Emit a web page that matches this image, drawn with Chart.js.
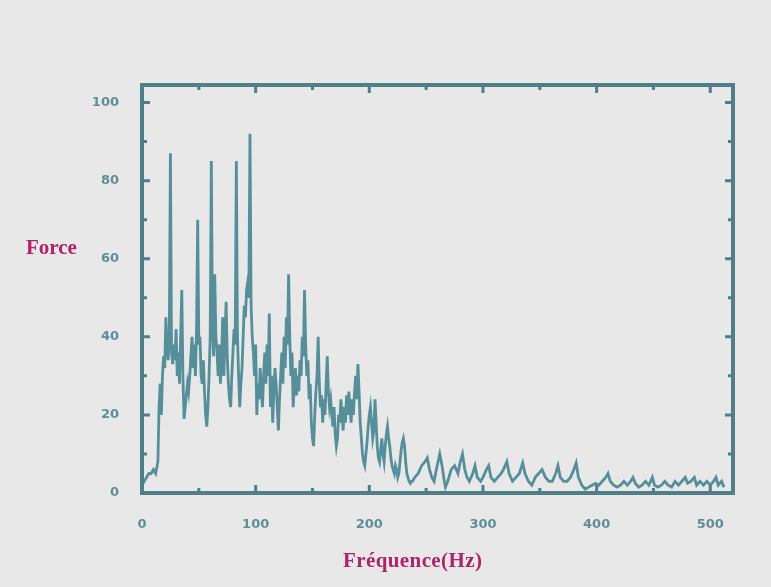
<!DOCTYPE html>
<html>
<head>
<meta charset="utf-8">
<script src="https://cdn.jsdelivr.net/npm/chart.js@4.4.1/dist/chart.umd.min.js"></script>
<style>
  body { margin: 0; background: #e8e8e8; }
  #wrap { position: relative; width: 771px; height: 587px; background: #e8e8e8; }
  .axis-title { position: absolute; font-family: "Liberation Serif", serif; font-weight: bold; color: #b0236a; }
  #yTitle { left: 26px; top: 235px; font-size: 21px; }
  #xTitle { left: 343px; top: 548px; font-size: 21px; letter-spacing: 0.4px; }
</style>
</head>
<body>
<div id="wrap">
  <canvas id="spectrum" width="771" height="587"></canvas>
  <div class="axis-title" id="yTitle">Force</div>
  <div class="axis-title" id="xTitle">Fréquence(Hz)</div>
</div>
<script>
// frequency (Hz) and force values
const freqHz = [
  0, 2, 4, 6, 8, 10, 12, 14, 15, 16, 17, 18, 19, 20, 21, 22, 23, 24, 25, 26, 27, 28, 29, 30,
  31, 32, 33, 34, 35, 36, 37, 38, 39, 40, 41, 42, 43, 44, 45, 46, 47, 48, 49, 50,
  51, 52, 53, 54, 55, 56, 57, 58, 59, 60, 61, 62, 63, 64, 65, 66, 67, 68, 69, 70,
  71, 72, 73, 74, 75, 76, 77, 78, 79, 80, 81, 82, 83, 84, 85, 86, 87, 88, 89, 90,
  91, 92, 93, 94, 95, 96, 97, 98, 99, 100, 101, 102, 103, 104, 105, 106, 107, 108, 109, 110,
  111, 112, 113, 114, 115, 116, 117, 118, 119, 120, 121, 122, 123, 124, 125, 126, 127, 128, 129, 130,
  131, 132, 133, 134, 135, 136, 137, 138, 139, 140, 141, 142, 143, 144, 145, 146, 147, 148, 149, 150,
  151, 152, 153, 154, 155, 156, 157, 158, 159, 160, 161, 162, 163, 164, 165, 166, 167, 168, 169, 170,
  171, 172, 173, 174, 175, 176, 177, 178, 179, 180, 181, 182, 183, 184, 185, 186, 187, 188, 189, 190,
  191, 192, 193, 194, 195, 196, 197, 198, 199, 200, 201, 202, 203, 204, 205, 206, 207, 208, 209, 210,
  211, 212, 213, 214, 215, 216, 217, 218, 219, 220, 221, 222, 223, 224, 225, 226, 227, 228, 229, 230,
  231, 232, 233, 234, 235, 236, 237, 238, 240, 243, 246, 249, 251, 253, 255, 257, 259, 262, 264, 266,
  267, 269, 272, 275, 278, 280, 282, 284, 286, 288, 291, 293, 295, 298, 300, 303, 305, 307, 310, 313,
  316, 318, 321, 323, 326, 329, 332, 335, 337, 340, 343, 346, 349, 352, 355, 358, 361, 364, 366, 368,
  371, 374, 377, 380, 382, 384, 387, 390, 393, 396, 399, 402, 405, 408, 410, 412, 415, 418, 421, 424,
  427, 430, 432, 434, 437, 440, 443, 446, 449, 451, 454, 457, 460, 463, 466, 469, 472, 475, 478, 480,
  483, 486, 488, 491, 494, 497, 500, 503, 505, 507, 510, 512
];
const force = [
  2, 3, 4, 5, 5, 6, 5, 8, 22, 28, 20, 30, 35, 32, 45, 38, 34, 40, 87, 36, 33, 38, 34, 42,
  30, 36, 28, 40, 52, 30, 19, 22, 25, 28, 26, 30, 35, 40, 32, 38, 30, 42, 70, 38,
  40, 30, 28, 34, 26, 20, 17, 22, 30, 40, 85, 42, 35, 56, 40, 36, 30, 38, 28, 34,
  45, 30, 40, 49, 35, 28, 24, 22, 30, 36, 42, 38, 85, 40, 30, 22, 28, 32, 40, 48,
  45, 52, 54, 50, 92, 48, 40, 36, 30, 38, 20, 28, 24, 32, 26, 22, 30, 36, 28, 38,
  30, 46, 22, 30, 18, 26, 32, 28, 22, 16, 24, 30, 36, 28, 40, 32, 45, 38, 56, 40,
  30, 36, 22, 28, 32, 25, 30, 26, 34, 30, 40, 35, 52, 38, 30, 34, 24, 28, 18, 14,
  12, 20, 26, 30, 40, 28, 22, 25, 18, 24, 20, 28, 35, 26, 22, 24, 20, 17, 22, 15,
  12, 14, 20, 18, 24, 20, 16, 22, 18, 25, 20, 26, 22, 18, 24, 20, 26, 30, 24, 33,
  26, 18, 14, 10, 8, 7, 10, 13, 17, 20, 22, 18, 14, 16, 24, 18, 12, 9, 8, 11,
  14, 10, 8, 12, 15, 17, 14, 12, 9, 7, 6, 5, 7, 6, 4, 5, 8, 11, 13, 14,
  12, 8, 5, 4, 3, 2.5, 3, 3, 4, 5, 7, 8, 9, 6, 4, 3, 6, 10, 7, 3,
  1.5, 3, 6, 7, 5, 8, 10, 6, 4, 3, 5, 7, 4, 3, 4, 6, 7, 4, 3, 4,
  5, 6, 8, 5, 3, 4, 5, 7.7, 5, 3, 2, 4, 5, 6, 4, 3, 3, 5, 7, 4,
  3, 3, 4, 6, 7.7, 4, 2, 1, 1.5, 2, 2.5, 2, 3, 4, 5, 3, 2, 1.5, 2, 3,
  2, 3, 4, 2.5, 1.5, 2, 3, 2, 4, 2, 1.5, 2, 3, 2, 1.5, 3, 2, 3, 4, 2.5,
  3, 4, 2, 3, 2, 3, 2, 3, 4, 2, 3, 1.5
];
const xTicks = [0, 100, 200, 300, 400, 500];
const yTicks = [0, 20, 40, 60, 80, 100];

const frameColor = '#4f7f89';
const tickFont = { family: 'DejaVu Sans', size: 13, weight: 'bold' };

// frame + inward tick marks on all four sides
const framePlugin = {
  id: 'frame',
  afterDraw(chart) {
    const { ctx, chartArea: a, scales } = chart;
    ctx.save();
    ctx.strokeStyle = frameColor;
    ctx.lineWidth = 3;
    for (let v = 0; v <= 500; v += 50) {
      const px = scales.x.getPixelForValue(v);
      const len = v % 100 === 0 ? 8 : 5;
      ctx.beginPath();
      ctx.moveTo(px, a.bottom); ctx.lineTo(px, a.bottom - len);
      ctx.moveTo(px, a.top); ctx.lineTo(px, a.top + len);
      ctx.stroke();
    }
    for (let v = 0; v <= 100; v += 10) {
      const py = scales.y.getPixelForValue(v);
      const len = v % 20 === 0 ? 8 : 5;
      ctx.beginPath();
      ctx.moveTo(a.left, py); ctx.lineTo(a.left + len, py);
      ctx.moveTo(a.right, py); ctx.lineTo(a.right - len, py);
      ctx.stroke();
    }
    ctx.lineWidth = 4;
    ctx.strokeRect(a.left, a.top, a.right - a.left, a.bottom - a.top);
    ctx.restore();
  }
};

new Chart(document.getElementById('spectrum'), {
  type: 'line',
  data: {
    datasets: [{
      data: freqHz.map((f, i) => ({ x: f, y: force[i] })),
      borderColor: '#568f9a',
      borderWidth: 2.8,
      pointRadius: 0,
      tension: 0
    }]
  },
  options: {
    responsive: false,
    animation: false,
    layout: { padding: { top: 85, right: 38, left: 0, bottom: 0 } },
    plugins: { legend: { display: false }, tooltip: { enabled: false } },
    scales: {
      x: {
        type: 'linear',
        min: 0,
        max: 520,
        afterFit: s => { s.height = 94; },
        afterBuildTicks: s => { s.ticks = xTicks.map(v => ({ value: v })); },
        grid: { display: false },
        border: { display: false },
        ticks: { color: '#5f8d96', font: tickFont, padding: 16, maxRotation: 0 }
      },
      y: {
        min: 0,
        max: 104.5,
        afterFit: s => { s.width = 142; },
        afterBuildTicks: s => { s.ticks = yTicks.map(v => ({ value: v })); },
        grid: { display: false },
        border: { display: false },
        ticks: { color: '#5f8d96', font: tickFont, padding: 15 }
      }
    }
  },
  plugins: [framePlugin]
});
</script>
</body>
</html>
